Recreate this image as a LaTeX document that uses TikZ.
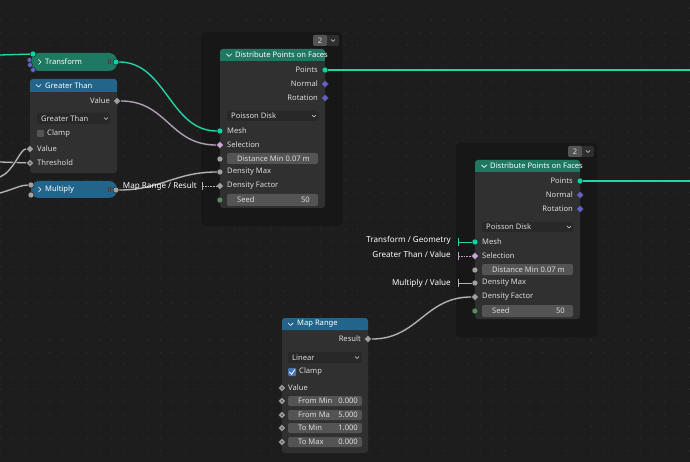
\documentclass[tikz,border=0pt]{standalone}
\usepackage{fontspec}
\setmainfont{Noto Sans}
\usetikzlibrary{shapes.geometric}
\definecolor{bg}{HTML}{1D1D1D}
\definecolor{griddot}{HTML}{2C2C2C}
\definecolor{framebg}{HTML}{171717}
\definecolor{nodebody}{HTML}{303030}
\definecolor{hdrgeo}{HTML}{1F7862}
\definecolor{hdrconv}{HTML}{23658A}
\definecolor{fieldgray}{HTML}{545454}
\definecolor{dropgray}{HTML}{282828}
\definecolor{widget}{HTML}{2E2E2E}
\definecolor{labeltext}{HTML}{DCDCDC}
\definecolor{sgeo}{HTML}{00D6A3}
\definecolor{svec}{HTML}{6363C7}
\definecolor{sflt}{HTML}{A1A1A1}
\definecolor{sbool}{HTML}{CCA6D6}
\definecolor{sint}{HTML}{598C5C}
\definecolor{linkgeo}{HTML}{1ED9A4}
\definecolor{linkflt}{HTML}{B4B4B4}
\definecolor{linksel}{HTML}{B3A0BA}
\definecolor{checkblue}{HTML}{4772B3}
\tikzset{every picture/.style={x=1pt,y=-1pt}}
\tikzset{
  lbl/.style={text=labeltext, font=\fontsize{7.6}{9}\selectfont, inner sep=0pt},
  lblw/.style={lbl, anchor=west},
  lble/.style={lbl, anchor=east},
  stublbl/.style={text=white, font=\fontsize{8.1}{10}\selectfont, inner sep=0pt, anchor=east},
  sock/.style={circle, draw=black!85, line width=0.5pt, inner sep=0pt, minimum size=6pt},
  fsock/.style={diamond, draw=black!85, line width=0.5pt, inner sep=0pt, minimum size=7.5pt},
  dotsock/.style={fsock, path picture={\fill[black!80] (path picture bounding box.center) circle (0.9pt);}},
  chev/.style={draw=white!90, line width=0.7pt, line cap=round, line join=round},
  chevs/.style={draw=labeltext, line width=0.6pt, line cap=round, line join=round},
  grip/.style={draw=white!25!black, line width=0.4pt},
  link/.style={line width=1.3pt, preaction={draw=black!85, line width=2.7pt}},
  glink/.style={link, draw=linkgeo},
  flink/.style={link, draw=linkflt},
  slink/.style={link, draw=linksel},
  stub/.style={line width=0.9pt, |-},
  fine dash/.style={dash pattern=on 1.6pt off 1pt}
}
\begin{document}
\begin{tikzpicture}
  % canvas and dot grid
  \fill[bg] (0,0) rectangle (690,462);
  \useasboundingbox (0,0) rectangle (690,462);
  \foreach \i in {0,...,56}
    \foreach \j in {0,...,37}
      \fill[griddot] (0.8+12.3*\i, 8.1+12.3*\j) circle (0.8pt);

  % the two Distribute Points on Faces nodes, each in its frame
  \foreach \n/\dx/\dy in {a/0/0, b/255/111} {
  \begin{scope}[shift={(\dx,\dy)}]
    \fill[framebg, rounded corners=4pt] (201,32) rectangle (342,226);
    \fill[widget, rounded corners=2pt] (313,35) rectangle (339,46);
    \fill[fieldgray, rounded corners=2pt] (313,35) rectangle (327,46);
    \node[lbl] (\n-count) at (320,40.5) {2};
    \draw[chevs] (331,39.5) -- (333,41.5) -- (335,39.5);
    \fill[nodebody, rounded corners=3pt] (220,49) rectangle (325,208);
    \fill[hdrgeo, rounded corners=3pt] (220,49) rectangle (325,61);
    \fill[hdrgeo] (220,55) rectangle (325,61);
    \draw[chev] (226.5,54) -- (229,56.5) -- (231.5,54);
    \node[lblw, text=white] (\n-title) at (235,55) {Distribute Points on Faces};
    % outputs
    \node[lble] (\n-points-l) at (318,70) {Points};
    \node[lble] (\n-normal-l) at (318,84) {Normal};
    \node[lble] (\n-rot-l) at (318,98) {Rotation};
    \node[sock, fill=sgeo] (\n-points) at (325,70) {};
    \node[fsock, fill=svec] (\n-normal) at (325,84) {};
    \node[fsock, fill=svec] (\n-rot) at (325,98) {};
    % mode
    \fill[dropgray, rounded corners=2pt] (227,111) rectangle (318,121);
    \node[lblw] (\n-mode) at (231,116) {Poisson Disk};
    \draw[chevs] (312,115) -- (314,117) -- (316,115);
    % inputs
    \node[lblw] (\n-mesh-l) at (227,131) {Mesh};
    \node[lblw] (\n-sel-l) at (227,145) {Selection};
    \fill[fieldgray, rounded corners=2pt] (227,153) rectangle (318,164);
    \node[lblw] (\n-dmin-l) at (237,158.5) {Distance Min};
    \node[lble] (\n-dmin-v) at (310,158.5) {0.07 m};
    \node[lblw] (\n-dmax-l) at (227,172) {Density Max};
    \node[lblw] (\n-dfac-l) at (227,186) {Density Factor};
    \fill[fieldgray, rounded corners=2pt] (227,194) rectangle (318,206);
    \node[lblw] (\n-seed-l) at (237,200) {Seed};
    \node[lble] (\n-seed-v) at (310,200) {50};
    \node[sock, fill=sgeo] (\n-mesh) at (220,131) {};
    \node[fsock, fill=sbool] (\n-sel) at (220,145) {};
    \node[sock, fill=sflt] (\n-dmin) at (220,159) {};
    \node[sock, fill=sflt] (\n-dmax) at (220,172) {};
    \node[fsock, fill=sflt] (\n-dfac) at (220,186) {};
    \node[sock, fill=sint] (\n-seed) at (220,200) {};
  \end{scope}}

  % Transform (collapsed)
  \fill[hdrgeo, rounded corners=8pt] (31,53) rectangle (117,71);
  \draw[chev] (38.5,59.5) -- (41,62) -- (38.5,64.5);
  \node[lblw, text=white] (tf-title) at (45,62) {Transform};
  \draw[grip] (108,59.5) -- (108,64.5) (110,59.5) -- (110,64.5);
  \node[sock, fill=sgeo] (tf-in) at (33,54) {};
  \node[sock, fill=svec, minimum size=5pt] (tf-tr) at (29.5,60) {};
  \node[sock, fill=svec, minimum size=5pt] (tf-rt) at (30,65) {};
  \node[sock, fill=svec, minimum size=5pt] (tf-sc) at (33,70) {};
  \node[sock, fill=sgeo] (tf-out) at (116,62) {};

  % Greater Than
  \fill[nodebody, rounded corners=3pt] (30,79) rectangle (117,173);
  \fill[hdrconv, rounded corners=3pt] (30,79) rectangle (117,92);
  \fill[hdrconv] (30,86) rectangle (117,92);
  \draw[chev] (36,84.5) -- (38.5,87) -- (41,84.5);
  \node[lblw, text=white] (gt-title) at (45,85.5) {Greater Than};
  \node[lble] (gt-out-l) at (110,101) {Value};
  \node[fsock, fill=sflt] (gt-out) at (117,101) {};
  \fill[dropgray, rounded corners=2pt] (37,113) rectangle (110,124);
  \node[lblw] (gt-mode) at (41,118.5) {Greater Than};
  \draw[chevs] (104,117.5) -- (106,119.5) -- (108,117.5);
  \fill[fieldgray, rounded corners=1pt] (37,130) rectangle (44,137);
  \node[lblw] (gt-clamp) at (47,133.5) {Clamp};
  \node[lblw] (gt-in1-l) at (37,149) {Value};
  \node[lblw] (gt-in2-l) at (37,163) {Threshold};
  \node[fsock, fill=sflt] (gt-in1) at (30,149) {};
  \node[dotsock, fill=sflt] (gt-in2) at (30,163) {};

  % Multiply (collapsed)
  \fill[hdrconv, rounded corners=8pt] (31,181) rectangle (117,198);
  \draw[chev] (38.5,187) -- (41,189.5) -- (38.5,192);
  \node[lblw, text=white] (mul-title) at (45,189.5) {Multiply};
  \draw[grip] (108,187) -- (108,192) (110,187) -- (110,192);
  \node[sock, fill=sflt] (mul-in1) at (31,185) {};
  \node[sock, fill=sflt] (mul-in2) at (31,195) {};
  \node[sock, fill=sflt] (mul-out) at (116,190) {};

  % Map Range
  \fill[nodebody, rounded corners=3pt] (282,318) rectangle (368,453);
  \fill[hdrconv, rounded corners=3pt] (282,318) rectangle (368,330);
  \fill[hdrconv] (282,324) rectangle (368,330);
  \draw[chev] (288,323) -- (290.5,325.5) -- (293,323);
  \node[lblw, text=white] (mr-title) at (297,324) {Map Range};
  \node[lble] (mr-out-l) at (361,339) {Result};
  \node[fsock, fill=sflt] (mr-out) at (368,339) {};
  \fill[dropgray, rounded corners=2pt] (288,352) rectangle (362,363);
  \node[lblw] (mr-mode) at (292,357.5) {Linear};
  \draw[chevs] (355,356.5) -- (357,358.5) -- (359,356.5);
  \fill[checkblue, rounded corners=1pt] (288,368) rectangle (296,376);
  \draw[white, line width=0.8pt, line cap=round, line join=round] (289.6,372) -- (291.6,374.4) -- (294.8,369.6);
  \node[lblw] (mr-clamp) at (299,372) {Clamp};
  \node[lblw] (mr-val-l) at (288,388) {Value};
  \node[dotsock, fill=sflt] (mr-val) at (282,388) {};
  \fill[fieldgray, rounded corners=2pt] (288,396) rectangle (362,406);
  \node[lblw] (mr-fmin-l) at (298,401) {From Min};
  \node[lble] (mr-fmin-v) at (358,401) {0.000};
  \node[dotsock, fill=sflt] (mr-fmin) at (282,401) {};
  \fill[fieldgray, rounded corners=2pt] (288,410) rectangle (362,420);
  \node[lblw] (mr-fmax-l) at (298,415) {From Ma};
  \node[lble] (mr-fmax-v) at (358,415) {5.000};
  \node[dotsock, fill=sflt] (mr-fmax) at (282,415) {};
  \fill[fieldgray, rounded corners=2pt] (288,423) rectangle (362,433);
  \node[lblw] (mr-tmin-l) at (298,428) {To Min};
  \node[lble] (mr-tmin-v) at (358,428) {1.000};
  \node[dotsock, fill=sflt] (mr-tmin) at (282,428) {};
  \fill[fieldgray, rounded corners=2pt] (288,437) rectangle (362,447);
  \node[lblw] (mr-tmax-l) at (298,442) {To Max};
  \node[lble] (mr-tmax-v) at (358,442) {0.000};
  \node[dotsock, fill=sflt] (mr-tmax) at (282,442) {};

  % free ends of links
  \coordinate (in-geo) at (0,55);
  \coordinate (in-thr) at (0,162);
  \coordinate (in-val) at (0,177);
  \coordinate (in-mul) at (0,193);
  \coordinate (out-a) at (690,70);
  \coordinate (out-b) at (690,181);
  \coordinate (a-dfac-end) at (202,186);
  \coordinate (b-mesh-end) at (458,242);
  \coordinate (b-sel-end) at (458,256);
  \coordinate (b-dmax-end) at (458,283);

  % links
  \draw[glink] (in-geo) -- (tf-in);
  \draw[flink] (in-thr) -- (gt-in2);
  \draw[flink] (in-val) .. controls +(14,-6) and +(-10,0) .. (gt-in1);
  \draw[flink] (in-mul) .. controls +(14,-4) and +(-10,0) .. (mul-in1);
  \draw[glink] (tf-out) .. controls +(50,0) and +(-50,0) .. (a-mesh);
  \draw[slink] (gt-out) .. controls +(50,0) and +(-50,0) .. (a-sel);
  \draw[flink] (mul-out) .. controls +(45,0) and +(-45,0) .. (a-dmax);
  \draw[flink] (mr-out) .. controls +(50,0) and +(-50,0) .. (b-dfac);
  \draw[glink] (a-points) -- (out-a);
  \draw[glink] (b-points) -- (out-b);

  % hidden links
  \draw[stub, linkflt, fine dash] (a-dfac-end) -- (a-dfac);
  \draw[stub, linkgeo] (b-mesh-end) -- (b-mesh);
  \draw[stub, linksel, fine dash] (b-sel-end) -- (b-sel);
  \draw[stub, linkflt] (b-dmax-end) -- (b-dmax);
  \node[stublbl] (a-dfac-src) at (197,186.5) {Map Range / Result};
  \node[stublbl] (b-mesh-src) at (451,240.5) {Transform / Geometry};
  \node[stublbl] (b-sel-src) at (451,254.5) {Greater Than / Value};
  \node[stublbl] (b-dmax-src) at (451,283) {Multiply / Value};
\end{tikzpicture}
\end{document}
